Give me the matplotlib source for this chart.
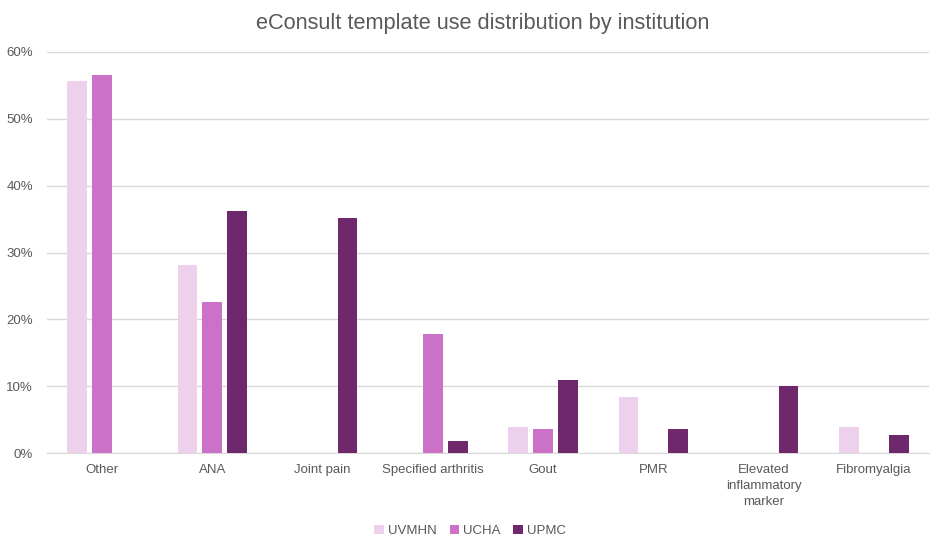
import numpy as np
import matplotlib.pyplot as plt
from matplotlib.ticker import PercentFormatter

plt.rcParams['font.family'] = ['Liberation Sans', 'DejaVu Sans']

categories = ['Other', 'ANA', 'Joint pain', 'Specified arthritis', 'Gout', 'PMR',
              'Elevated\ninflammatory\nmarker', 'Fibromyalgia']
uvmhn = [55.6, 28.2, 0, 0, 4.0, 8.4, 0, 4.0]
ucha = [56.5, 22.6, 0, 17.8, 3.6, 0, 0, 0]
upmc = [0, 36.2, 35.1, 1.9, 10.9, 3.6, 10.1, 2.8]

series = [('UVMHN', uvmhn, '#EDD0EC'), ('UCHA', ucha, '#CB72C8'), ('UPMC', upmc, '#70286C')]

fig = plt.figure(figsize=(9.4, 5.49), dpi=100)
ax = fig.add_axes([47 / 940, 1 - 453.3 / 549, 882 / 940, 401.6 / 549])

x = np.arange(len(categories))
pitch = 0.225
for i, (name, vals, col) in enumerate(series):
    ax.bar(x + (i - 1) * pitch, vals, width=0.18, color=col, label=name, zorder=3)

ax.set_xlim(-0.5, len(categories) - 0.5)
ax.set_ylim(0, 60)
ax.set_yticks(range(0, 61, 10))
ax.yaxis.set_major_formatter(PercentFormatter(decimals=0))
ax.set_xticks(x)
ax.set_xticklabels(categories, va='top', linespacing=1.4)
ax.grid(axis='y', color='#D9D9D9', linewidth=1, zorder=0)
for s in ['top', 'right', 'left']:
    ax.spines[s].set_visible(False)
ax.spines['bottom'].set_color('#D9D9D9')
ax.tick_params(axis='both', length=0, colors='#595959', labelsize=9.5)
ax.tick_params(axis='x', pad=8)
ax.tick_params(axis='y', pad=10)

fig.suptitle('eConsult template use distribution by institution', x=0.514, y=0.977,
             fontsize=15.7, color='#595959')
fig.legend(loc='lower center', bbox_to_anchor=(0.5, 0.0), ncol=3, frameon=False,
           fontsize=9.5, handlelength=0.7, handleheight=0.7, handletextpad=0.3,
           columnspacing=1.0, labelcolor='#595959')

fig.savefig('out.png', dpi=100)
